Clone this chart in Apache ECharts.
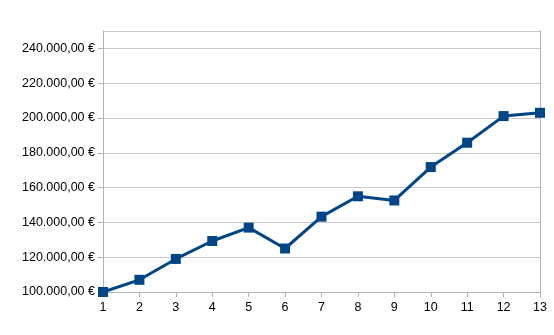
<!DOCTYPE html>
<html>
<head>
<meta charset="utf-8">
<script src="https://cdn.jsdelivr.net/npm/echarts@6/dist/echarts.min.js"></script>
<style>html,body{margin:0;padding:0;background:#fff}#c{width:554px;height:335px}</style>
</head>
<body>
<div id="c"></div>
<script>
var categories = ['1','2','3','4','5','6','7','8','9','10','11','12','13'];
var values = [100000, 107000, 119000, 129300, 137000, 125000, 143300, 155000, 152600, 171800, 185800, 201100, 203000];
var yMin = 100000, yMax = 250000, yStep = 20000;

function fmt(v) {
  var s = Math.round(v).toString().replace(/\B(?=(\d{3})+(?!\d))/g, '.');
  return s + ',00 €';
}

var chart = echarts.init(document.getElementById('c'));
chart.setOption({
  animation: false,
  grid: {left: 103, right: 14, top: 31, bottom: 43, containLabel: false},
  xAxis: {
    type: 'category',
    data: categories,
    boundaryGap: false,
    axisLine: {lineStyle: {color: '#b3b3b3', width: 1}},
    axisTick: {show: true, alignWithLabel: true, length: 5, lineStyle: {color: '#b3b3b3'}},
    axisLabel: {color: '#000', fontFamily: 'Liberation Sans', fontSize: 12.5, margin: 9},
    splitLine: {show: false}
  },
  yAxis: [{
    type: 'value',
    min: yMin, max: yMax, interval: yStep,
    axisLine: {show: true, lineStyle: {color: '#b3b3b3'}},
    axisTick: {show: true, length: 5, lineStyle: {color: '#b3b3b3'}},
    axisLabel: {color: '#000', fontFamily: 'Liberation Sans', fontSize: 12.5, margin: 8, showMaxLabel: false, formatter: fmt},
    splitLine: {show: true, lineStyle: {color: '#c8c8c8', width: 1}}
  }, {
    type: 'value',
    position: 'right',
    min: yMin, max: yMax, interval: yStep,
    axisLine: {show: true, lineStyle: {color: '#b3b3b3'}},
    axisTick: {show: false},
    axisLabel: {show: false},
    splitLine: {show: false}
  }],
  series: [{
    type: 'line',
    data: values,
    yAxisIndex: 0,
    symbol: 'rect',
    symbolSize: 10,
    lineStyle: {color: '#004586', width: 3},
    itemStyle: {color: '#004586'},
    z: 3
  }]
});
</script>
</body>
</html>
